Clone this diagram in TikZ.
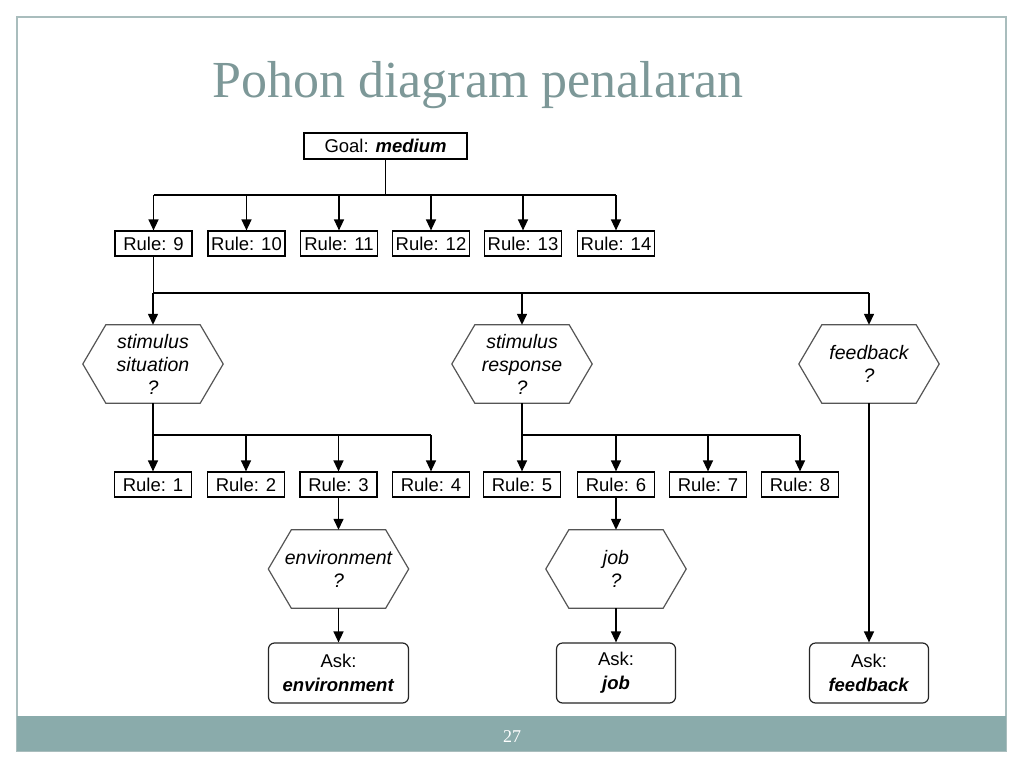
\documentclass[tikz,border=0pt]{standalone}
\usepackage{fontspec}
\setmainfont{Liberation Sans}
\newfontfamily\titlefont{Liberation Serif}
\usetikzlibrary{calc,arrows.meta}
\definecolor{titlecol}{HTML}{7D9898}
\definecolor{footcol}{HTML}{8AABAB}
\definecolor{framecol}{HTML}{A9BDBD}
\definecolor{hexcol}{HTML}{555555}
\tikzset{
  rulebox/.style={draw=black, line width=1.2pt, minimum width=77pt, minimum height=25pt, inner xsep=3pt, inner ysep=0pt, font=\fontsize{18.5}{23}\selectfont},
  hexnode/.style={draw=none, minimum width=140pt, minimum height=78pt, inner sep=0pt, align=center, font=\fontsize{19.5}{23}\selectfont\itshape},
  hexline/.style={draw=hexcol, line width=1.2pt},
  askbox/.style={draw=black!85, line width=1.2pt, rounded corners=6pt, minimum height=60pt, inner xsep=5pt, align=center, font=\fontsize{18.5}{24}\selectfont},
  conn/.style={line width=1.4pt, black},
  arr/.style={conn, -{Triangle[width=10pt,length=11pt]}}
}
\newcommand{\hexdraw}[1]{%
  \draw[hexline] (#1.west) -- ($(#1.north west)+(23,0)$) -- ($(#1.north east)+(-23,0)$) -- (#1.east) -- ($(#1.south east)+(-23,0)$) -- ($(#1.south west)+(23,0)$) -- cycle;}
\begin{document}
\begin{tikzpicture}[x=1pt,y=-1pt]
\useasboundingbox (0,0) rectangle (1024,768);
\fill[white] (0,0) rectangle (1024,768);
% frame
\draw[framecol, line width=1.5pt] (17,17) rectangle (1006,751);
\fill[footcol] (17,716) rectangle (1006,751);
\node[text=white, font=\titlefont\fontsize{18}{20}\selectfont] (pnum) at (512,737) {27};
% title
\node[anchor=base, text=titlecol, font=\titlefont\fontsize{52}{60}\selectfont, inner sep=0pt] (title) at (478,97) {Pohon diagram penalaran};
% goal
\node[rulebox, minimum width=163pt, minimum height=26pt] (goal) at (385.5,146) {Goal: \textbf{\textit{medium}}};
% first rule row
\node[rulebox] (r9)  at (153.5,243.5) {Rule: 9};
\node[rulebox] (r10) at (246.5,243.5) {Rule: 10};
\node[rulebox] (r11) at (339,243.5) {Rule: 11};
\node[rulebox] (r12) at (431,243.5) {Rule: 12};
\node[rulebox] (r13) at (523,243.5) {Rule: 13};
\node[rulebox] (r14) at (616,243.5) {Rule: 14};
% hexagons
\node[hexnode] (h1) at (153,364) {stimulus\\situation\\?};
\node[hexnode] (h2) at (522,364) {stimulus\\response\\?};
\node[hexnode] (h3) at (869,364) {feedback\\?};
\node[hexnode] (h4) at (338.5,569) {environment\\?};
\node[hexnode] (h5) at (616,569) {job\\?};
\foreach \h in {h1,h2,h3,h4,h5}{\hexdraw{\h}}
% second rule row
\node[rulebox] (r1) at (153,484.5) {Rule: 1};
\node[rulebox] (r2) at (246,484.5) {Rule: 2};
\node[rulebox] (r3) at (338.5,484.5) {Rule: 3};
\node[rulebox] (r4) at (431,484.5) {Rule: 4};
\node[rulebox] (r5) at (522,484.5) {Rule: 5};
\node[rulebox] (r6) at (616,484.5) {Rule: 6};
\node[rulebox] (r7) at (708,484.5) {Rule: 7};
\node[rulebox] (r8) at (800,484.5) {Rule: 8};
% ask boxes
\node[askbox, minimum width=140pt] (a1) at (338.5,673) {Ask:\\\textbf{\textit{environment}}};
\node[askbox, minimum width=119pt] (a2) at (616,673) {Ask:\\\textbf{\textit{job}}};
\node[askbox, minimum width=119pt] (a3) at (869,673) {Ask:\\\textbf{\textit{feedback}}};
% bus coordinates
\coordinate (b1) at (385,195);
\coordinate (b2) at (153,293);
\coordinate (b3) at (153,435);
\coordinate (b4) at (522,435);
% goal bus
\draw[conn] (goal.south) -- (goal.south |- b1);
\draw[conn] (r9.north |- b1) -- (r14.north |- b1);
\foreach \r in {r9,r10,r11,r12,r13,r14}{\draw[arr] (\r.north |- b1) -- (\r.north);}
% rule 9 bus
\draw[conn] (r9.south) -- (r9.south |- b2);
\draw[conn] (h1.north |- b2) -- (h3.north |- b2);
\foreach \h in {h1,h2,h3}{\draw[arr] (\h.north |- b2) -- (\h.north);}
% hex1 bus
\draw[conn] (h1.south) -- (h1.south |- b3);
\draw[conn] (r1.north |- b3) -- (r4.north |- b3);
\foreach \r in {r1,r2,r3,r4}{\draw[arr] (\r.north |- b3) -- (\r.north);}
% hex2 bus
\draw[conn] (h2.south) -- (h2.south |- b4);
\draw[conn] (r5.north |- b4) -- (r8.north |- b4);
\foreach \r in {r5,r6,r7,r8}{\draw[arr] (\r.north |- b4) -- (\r.north);}
% lower arrows
\draw[arr] (r3.south) -- (h4.north);
\draw[arr] (r6.south) -- (h5.north);
\draw[arr] (h4.south) -- (a1.north);
\draw[arr] (h5.south) -- (a2.north);
\draw[arr] (h3.south) -- (a3.north);
\end{tikzpicture}
\end{document}
